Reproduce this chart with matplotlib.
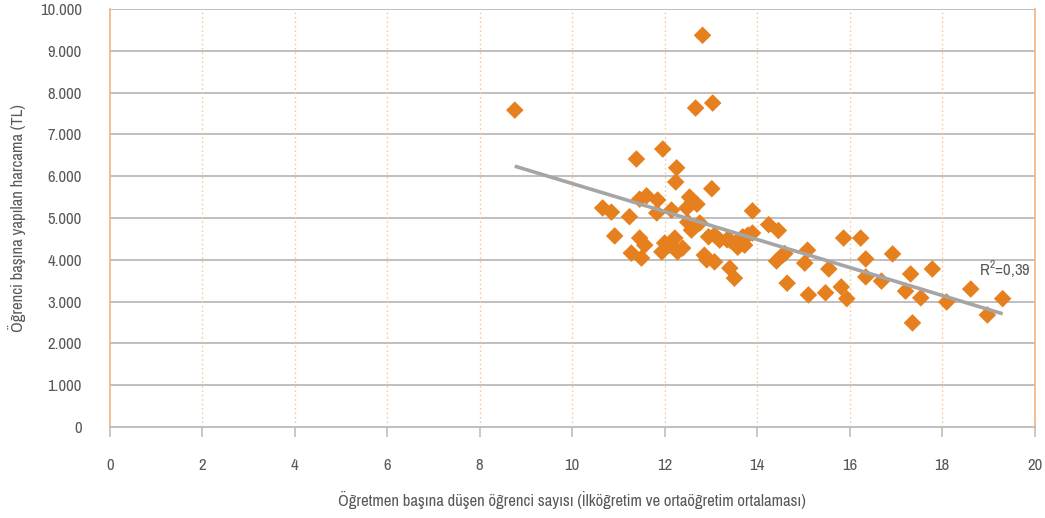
import numpy as np
import matplotlib
matplotlib.use("Agg")
import matplotlib.pyplot as plt
from matplotlib.ticker import FuncFormatter
from matplotlib import font_manager

# Data: students per teacher (x) vs. spending per student in TL (y)
students_per_teacher = [
    8.76, 12.82, 12.67, 13.04, 11.39, 11.96, 12.26, 12.24, 13.02, 10.66,
    10.85, 11.24, 10.92, 11.46, 11.61, 11.85, 11.83, 12.15, 12.54, 12.60,
    12.48, 12.50, 12.65, 12.58, 12.76, 11.46, 11.57, 11.28, 11.50, 11.94,
    12.00, 12.22, 12.28, 12.11, 12.86, 12.91, 13.08, 13.08, 13.19, 13.41,
    13.51, 13.41, 13.55, 13.69, 13.58, 13.73, 13.90, 13.80, 13.90, 14.25,
    14.46, 14.42, 14.55, 14.65, 15.03, 15.09, 15.11, 15.48, 15.55, 15.82,
    15.87, 15.94, 16.24, 16.35, 16.35, 16.69, 16.93, 17.21, 17.32, 17.36,
    17.54, 17.79, 18.10, 18.62, 18.98, 19.31, 12.39, 12.70, 13.35, 12.95,
    14.60,
]
spending_tl = [
    7580, 9370, 7630, 7750, 6410, 6650, 6200, 5860, 5700, 5240,
    5140, 5030, 4570, 5450, 5530, 5430, 5120, 5190, 5500, 5380,
    5240, 4900, 4790, 4710, 4880, 4520, 4350, 4160, 4040, 4190,
    4400, 4520, 4190, 4350, 4110, 4000, 3950, 4590, 4470, 3800,
    3560, 4470, 4420, 4550, 4300, 4350, 5170, 4590, 4640, 4840,
    4700, 3970, 4110, 3440, 3920, 4230, 3160, 3210, 3780, 3350,
    4520, 3070, 4520, 4020, 3590, 3490, 4140, 3250, 3660, 2490,
    3090, 3780, 2990, 3300, 2680, 3070, 4280, 5330, 4480, 4550,
    4150,
]
x_ticks = [0, 2, 4, 6, 8, 10, 12, 14, 16, 18, 20]
y_ticks = [0, 1000, 2000, 3000, 4000, 5000, 6000, 7000, 8000, 9000, 10000]
x_label = "Öğretmen başına düşen öğrenci sayısı (İlköğretim ve ortaöğretim ortalaması)"
y_label = "Öğrenci başına yapılan harcama (TL)"
r2_label = "R$^2$=0,39"

# pick a condensed font if one exists
cond = None
for f in font_manager.fontManager.ttflist:
    n = f.name
    if ('Condensed' in n or 'Narrow' in n) and f.style == 'normal' and f.weight in (400, 'normal'):
        cond = n
        break
if cond is None:
    for f in font_manager.fontManager.ttflist:
        if f.stretch in ('condensed', 'semi-condensed', 500) or (isinstance(f.stretch, int) and f.stretch < 500):
            if f.style == 'normal':
                cond = f.name
                break
families = ([cond] if cond else []) + ['DejaVu Sans']
plt.rcParams['font.family'] = families
plt.rcParams['font.stretch'] = 'condensed'
plt.rcParams['mathtext.fontset'] = 'custom'
if cond:
    plt.rcParams['mathtext.rm'] = cond
fs = 12 if cond else 10.5

fig = plt.figure(figsize=(10.45, 5.18), dpi=100)
ax = fig.add_axes([0.105, 0.1757, 0.885, 0.807])

x = np.array(students_per_teacher)
y = np.array(spending_tl)

ax.set_xlim(0, 20)
ax.set_ylim(0, 10000)
ax.set_xticks(x_ticks)
ax.set_yticks(y_ticks)

# grid
for yt in y_ticks[1:]:
    ax.axhline(yt, color='#BFBFBF', lw=1.4, zorder=1)
for xt in x_ticks[1:-1]:
    ax.axvline(xt, color='#F8C89A', lw=1.0, ls=(0, (1.2, 2.0)), zorder=1)

ax.scatter(x, y, marker='D', s=80, color='#E6801F', edgecolors='none', zorder=3)

# linear trend
coef = np.polyfit(x, y, 1)
xs = np.array([x.min(), x.max()])
ax.plot(xs, np.polyval(coef, xs), color='#A5A5A5', lw=2.6, zorder=4,
        solid_capstyle='butt')

ax.text(19.35, 3780, r2_label, ha='center', va='center', fontsize=fs,
        color='#595959', zorder=5)

ax.spines['top'].set_visible(False)
ax.spines['left'].set_color('#F4B183')
ax.spines['right'].set_color('#F4B183')
ax.spines['left'].set_linewidth(1.2)
ax.spines['right'].set_linewidth(1.2)
ax.spines['bottom'].set_color('#BFBFBF')
ax.spines['bottom'].set_linewidth(1.4)

ax.yaxis.set_major_formatter(FuncFormatter(lambda v, p: f"{int(v):,}".replace(",", ".")))
ax.tick_params(axis='y', length=0, pad=20, labelsize=fs, labelcolor='#595959')
ax.tick_params(axis='x', length=7, width=1.2, color='#BFBFBF', pad=15,
               labelsize=fs, labelcolor='#595959')

ax.set_xlabel(x_label, fontsize=fs, color='#595959', labelpad=13)
ax.set_ylabel(y_label, fontsize=fs, color='#595959', labelpad=10)

fig.savefig("out.png", dpi=100)
